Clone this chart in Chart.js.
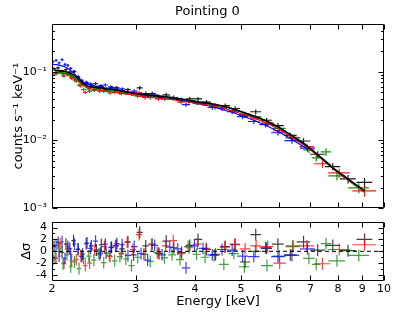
<!DOCTYPE html>
<html>
<head>
<meta charset="utf-8">
<script src="https://cdn.jsdelivr.net/npm/chart.js@4"></script>
<style>
  html, body { margin: 0; padding: 0; background: #fff; }
  #wrap { position: relative; width: 415px; height: 312px; }
  #spec { position: absolute; left: 0; top: 0; }
  #resid { position: absolute; left: 0; top: 210px; }
</style>
</head>
<body>
<div id="wrap">
  <canvas id="spec" width="415" height="220"></canvas>
  <canvas id="resid" width="415" height="102"></canvas>
</div>
<script>
// axis values
const energyRange = [2, 10];
const energyTicks = [2, 3, 4, 5, 6, 7, 8, 9, 10];
const rateRange = [0.001, 0.5];
const rateTicks = [0.001, 0.01, 0.1];
const rateTickLabels = ['10⁻³', '10⁻²', '10⁻¹'];
const residRange = [-5, 5];
const residTicks = [-4, -2, 0, 2, 4];

// black
const energyBlack = [2.02, 2.06, 2.10, 2.14, 2.18, 2.22, 2.27, 2.32, 2.37, 2.42,
  2.48, 2.54, 2.60, 2.67, 2.74, 2.81, 2.89, 2.97, 3.06, 3.15,
  3.25, 3.36, 3.48, 3.61, 3.75, 3.90, 4.06, 4.23, 4.42, 4.63,
  4.86, 5.10, 5.37, 5.66, 5.98, 6.35, 6.77, 7.25, 7.80, 8.40, 9.10];
const rateBlack = [.111, .114, .102, .107, .099, .100, .082, .067, .068, .064,
  .059, .061, .055, .058, .058, .053, .055, .048, .058, .048,
  .048, .043, .046, .042, .039, .040, .040, .036, .032, .032,
  .029, .023, .026, .0195, .0163, .0117, .0097, .0062, .0041, .0027, .0024];
const relErrBlack = [.05, .05, .05, .05, .05, .05, .06, .06, .06, .06,
  .06, .06, .06, .06, .06, .06, .06, .06, .07, .07,
  .07, .07, .07, .07, .07, .07, .07, .07, .07, .07,
  .08, .08, .08, .08, .09, .09, .10, .11, .12, .14, .16];
const modelBlack = [.105, .104, .103, .100, .096, .090, .080, .069, .062, .060,
  .059, .058, .056, .055, .054, .052, .050, .049, .047, .046,
  .045, .044, .043, .041, .040, .038, .036, .035, .033, .031,
  .028, .025, .022, .019, .0157, .0120, .0090, .0061, .0039, .0027, .0018];
const residBlack = [0.8, 1.5, -0.2, 1.2, 0.5, 1.8, 0.3, -0.5, 1.4, 0.9,
  0.2, 1.1, -0.3, 0.7, 1.3, 0.4, 1.6, -0.6, 3.2, 0.9,
  1.2, -0.4, 1.7, 0.6, -0.2, 1.0, 2.0, 0.3, -0.5, 0.8,
  1.1, -1.8, 2.8, 0.5, 1.2, -0.6, 1.6, 0.2, 1.0, 0.1, 2.0];

// red
const energyRed = [2.04, 2.08, 2.12, 2.16, 2.20, 2.25, 2.30, 2.35, 2.40, 2.46,
  2.52, 2.58, 2.65, 2.72, 2.80, 2.88, 2.96, 3.05, 3.14, 3.24,
  3.35, 3.47, 3.60, 3.74, 3.89, 4.05, 4.22, 4.41, 4.62, 4.85,
  5.10, 5.38, 5.69, 6.03, 6.42, 6.88, 7.42, 8.05, 9.10];
const rateRed = [.093, .099, .086, .090, .080, .073, .062, .050, .052, .054,
  .052, .054, .049, .052, .048, .050, .047, .049, .042, .044,
  .040, .042, .041, .036, .037, .035, .034, .030, .030, .027,
  .024, .021, .0178, .0136, .0110, .0080, .0045, .0033, .0018];
const relErrRed = [.05, .05, .05, .05, .05, .06, .06, .06, .06, .06,
  .06, .06, .06, .06, .06, .06, .06, .07, .07, .07,
  .07, .07, .07, .07, .07, .07, .07, .07, .07, .08,
  .08, .08, .08, .09, .10, .11, .13, .15, .18];
const modelRed = [.097, .096, .094, .091, .086, .077, .067, .060, .057, .055,
  .054, .052, .051, .050, .049, .047, .046, .044, .043, .042,
  .041, .040, .039, .037, .036, .034, .033, .031, .029, .026,
  .0235, .0205, .0175, .0142, .0108, .0079, .0052, .0032, .0017];
const residRed = [-1.2, 1.3, -2.0, 0.4, -1.6, -1.4, -0.8, -2.4, -2.0, 0.2,
  -0.6, 0.8, -0.9, 1.0, -0.4, 1.5, 0.3, 2.8, -0.5, 1.1,
  -0.3, 0.9, 1.8, -0.4, 0.6, 1.2, 0.5, -0.6, 0.7, 1.2,
  0.4, 0.9, 0.8, -2.0, 0.8, 0.9, -2.1, 0.3, 1.1];

// blue
const energyBlue = [2.01, 2.04, 2.07, 2.10, 2.13, 2.16, 2.19, 2.23, 2.27, 2.31,
  2.36, 2.41, 2.47, 2.53, 2.59, 2.66, 2.73, 2.81, 2.89, 2.98,
  3.08, 3.18, 3.29, 3.41, 3.54, 3.68, 3.83, 3.99, 4.16, 4.35,
  4.56, 4.79, 5.04, 5.32, 5.63, 5.98, 6.40, 6.90];
const rateBlue = [.140, .147, .135, .150, .128, .124, .112, .101, .085, .075,
  .070, .066, .067, .062, .064, .060, .058, .056, .050, .052,
  .047, .044, .046, .042, .042, .040, .033, .036, .034, .030,
  .029, .026, .022, .0187, .0168, .0128, .0098, .0076];
const relErrBlue = [.05, .05, .05, .05, .05, .05, .05, .05, .06, .06,
  .06, .06, .06, .06, .06, .06, .06, .06, .07, .07,
  .07, .07, .07, .07, .07, .07, .07, .07, .07, .07,
  .08, .08, .08, .08, .09, .09, .10, .11];
const modelBlue = [.128, .127, .125, .122, .118, .112, .104, .093, .082, .073,
  .067, .064, .062, .060, .058, .057, .055, .053, .051, .049,
  .047, .046, .044, .043, .041, .039, .037, .035, .033, .031,
  .028, .0255, .0225, .0195, .0165, .0135, .0102, .0074];
const residBlue = [-1.4, 1.0, -0.8, 1.6, -1.2, 0.8, -0.5, 1.2, 0.4, -0.9,
  1.3, 0.5, 1.7, -0.3, 1.2, 0.6, 0.9, 1.1, -0.7, 0.8,
  -0.4, -1.5, 1.0, -0.6, 0.7, 0.4, -2.8, 0.9, 0.5, -0.6,
  0.3, 0.2, -0.8, -0.9, 0.6, -0.9, -0.7, 0.4];

// green
const energyGreen = [2.03, 2.07, 2.11, 2.15, 2.19, 2.23, 2.28, 2.33, 2.39, 2.45,
  2.51, 2.57, 2.64, 2.71, 2.78, 2.86, 2.94, 3.03, 3.12, 3.22,
  3.33, 3.45, 3.58, 3.72, 3.87, 4.03, 4.20, 4.39, 4.60, 4.83,
  5.08, 5.36, 5.67, 6.02, 6.44, 6.95, 7.20, 7.55, 7.96, 8.85];
const rateGreen = [.094, .097, .089, .092, .084, .076, .064, .055, .056, .054,
  .055, .052, .053, .050, .049, .048, .047, .044, .045, .042,
  .043, .040, .041, .038, .037, .035, .034, .031, .030, .027,
  .023, .022, .0172, .0148, .0108, .0072, .0055, .0067, .0030, .0020];
const relErrGreen = [.05, .05, .05, .05, .05, .06, .06, .06, .06, .06,
  .06, .06, .06, .06, .06, .06, .06, .07, .07, .07,
  .07, .07, .07, .07, .07, .07, .07, .07, .07, .08,
  .08, .08, .08, .09, .10, .11, .12, .13, .15, .17];
const modelGreen = [.100, .099, .097, .094, .090, .083, .073, .065, .060, .058,
  .057, .056, .055, .053, .052, .050, .049, .047, .046, .045,
  .044, .043, .041, .040, .038, .037, .035, .033, .031, .028,
  .025, .022, .0188, .0152, .0112, .0077, .0064, .0049, .0035, .0020];
const residGreen = [-1.0, 0.4, -2.1, -0.6, -2.6, -1.8, -2.9, -1.2, -0.8, -1.5,
  -0.4, -1.9, -0.7, -1.6, -0.9, -1.3, -2.4, -1.0, -0.5, -1.7,
  -0.2, -1.1, -0.6, -1.4, 0.8, -0.5, -1.0, -0.7, -2.2, -0.4,
  -2.6, 0.0, -2.4, -0.8, 0.9, -1.2, -2.2, 1.3, -1.6, -0.7];

const series = [
  { color: '#000000', e: energyBlack, rate: rateBlack, err: relErrBlack, model: modelBlack, resid: residBlack, lineOrder: 0, dataOrder: 7, lw: 1.6 },
  { color: '#ff0000', e: energyRed, rate: rateRed, err: relErrRed, model: modelRed, resid: residRed, lineOrder: 2, dataOrder: 6, lw: 1.1 },
  { color: '#0000ff', e: energyBlue, rate: rateBlue, err: relErrBlue, model: modelBlue, resid: residBlue, lineOrder: 3, dataOrder: 4, lw: 1.1 },
  { color: '#008000', e: energyGreen, rate: rateGreen, err: relErrGreen, model: modelGreen, resid: residGreen, lineOrder: 1, dataOrder: 5, lw: 1.2 },
];

// half bin width from neighbouring bin centres
function halfWidths(e) {
  return e.map((v, i) => {
    if (i === 0) return (e[1] - e[0]) / 2;
    if (i === e.length - 1) return (e[i] - e[i - 1]) / 2;
    return (e[i + 1] - e[i - 1]) / 4;
  });
}

Chart.defaults.font.family = 'DejaVu Sans';
Chart.defaults.color = '#000';

// crosses: horizontal = bin width, vertical = error
const errorBars = {
  id: 'errorBars',
  afterDatasetDraw(chart, args) {
    const ds = chart.data.datasets[args.index];
    if (!ds.errorBars) return;
    const { ctx, chartArea: a } = chart;
    const x = chart.scales.x, y = chart.scales.y;
    ctx.save();
    ctx.beginPath();
    ctx.rect(a.left, a.top, a.right - a.left, a.bottom - a.top);
    ctx.clip();
    ctx.strokeStyle = ds.borderColor;
    ctx.globalAlpha = ds.barAlpha;
    ctx.lineWidth = 1.2;
    ctx.beginPath();
    for (const p of ds.data) {
      const px = x.getPixelForValue(p.x), py = y.getPixelForValue(p.y);
      ctx.moveTo(x.getPixelForValue(p.xl), py);
      ctx.lineTo(x.getPixelForValue(p.xh), py);
      ctx.moveTo(px, y.getPixelForValue(p.yl));
      ctx.lineTo(px, y.getPixelForValue(p.yh));
    }
    ctx.stroke();
    ctx.restore();
  }
};

// box and inward ticks, matplotlib style
const frame = {
  id: 'frame',
  afterDraw(chart, args, opts) {
    const { ctx, chartArea: a } = chart;
    const x = chart.scales.x, y = chart.scales.y;
    const L = Math.round(a.left) + 0.5, R = Math.round(a.right) - 0.5;
    const T = Math.round(a.top) + 0.5, B = Math.round(a.bottom) - 0.5;
    ctx.save();
    ctx.strokeStyle = '#000';
    ctx.lineWidth = 1;
    ctx.beginPath();
    ctx.rect(L, T, R - L, B - T);
    for (const v of opts.xMajor) {
      const p = Math.round(x.getPixelForValue(v)) + 0.5;
      ctx.moveTo(p, B); ctx.lineTo(p, B - 5);
      ctx.moveTo(p, T); ctx.lineTo(p, T + 5);
    }
    const yTick = (v, len) => {
      const p = Math.round(y.getPixelForValue(v)) + 0.5;
      ctx.moveTo(L, p); ctx.lineTo(L + len, p);
      ctx.moveTo(R, p); ctx.lineTo(R - len, p);
    };
    opts.yMajor.forEach(v => yTick(v, 5));
    opts.yMinor.forEach(v => yTick(v, 2.5));
    ctx.stroke();
    ctx.restore();
  }
};

const minorRate = [];
for (const dec of [0.001, 0.01, 0.1]) {
  for (let m = 2; m <= 9; m++) {
    const v = dec * m;
    if (v < rateRange[1]) minorRate.push(v);
  }
}

// ---- spectrum panel ----
const specSets = [];
const residSets = [];
for (const s of series) {
  const hw = halfWidths(s.e);
  specSets.push({
    data: s.e.map((e, i) => ({ x: e, y: s.model[i] })),
    showLine: true, pointRadius: 0, borderColor: s.color, borderWidth: s.lw,
    order: s.lineOrder
  });
  specSets.push({
    data: s.e.map((e, i) => ({
      x: e, y: s.rate[i], xl: e - hw[i], xh: e + hw[i],
      yl: s.rate[i] * (1 - s.err[i]), yh: s.rate[i] * (1 + s.err[i])
    })),
    pointRadius: 0, borderColor: s.color, errorBars: true, barAlpha: 0.9,
    order: s.dataOrder
  });
  residSets.push({
    data: s.e.map((e, i) => ({
      x: e, y: s.resid[i], xl: e - hw[i], xh: e + hw[i],
      yl: s.resid[i] - 1, yh: s.resid[i] + 1
    })),
    pointRadius: 0, borderColor: s.color, errorBars: true, barAlpha: 0.75,
    order: s.dataOrder
  });
}
residSets.push({
  data: [{ x: energyRange[0], y: 0 }, { x: energyRange[1], y: 0 }],
  showLine: true, pointRadius: 0, borderColor: '#000', borderWidth: 1,
  borderDash: [4, 3], order: 0
});

const hiddenGrid = { display: false, drawTicks: false };

new Chart(document.getElementById('spec'), {
  type: 'scatter',
  data: { datasets: specSets },
  options: {
    responsive: false, animation: false, events: [],
    layout: { padding: { left: 0, right: 0, top: 0, bottom: 10 } },
    plugins: {
      legend: { display: false }, tooltip: { enabled: false },
      title: {
        display: true, text: 'Pointing 0', color: '#000',
        font: { size: 13, weight: 'normal' }, padding: { top: 4, bottom: 4.4 }
      },
      frame: { xMajor: energyTicks, yMajor: rateTicks, yMinor: minorRate }
    },
    scales: {
      x: {
        type: 'logarithmic', min: energyRange[0], max: energyRange[1],
        ticks: { display: false }, grid: hiddenGrid, border: { display: false },
        afterFit: s => { s.height = 0; }
      },
      y: {
        type: 'logarithmic', min: rateRange[0], max: rateRange[1], position: 'left',
        afterBuildTicks: s => { s.ticks = rateTicks.map(v => ({ value: v })); },
        afterFit: s => { s.width = 52; },
        grid: hiddenGrid, border: { display: false },
        ticks: {
          autoSkip: false, padding: 5, font: { size: 11 }, color: '#000',
          callback: v => rateTickLabels[rateTicks.indexOf(v)]
        },
        title: {
          display: true, text: 'counts s⁻¹ keV⁻¹', color: '#000',
          font: { size: 13 }, padding: { top: 11, bottom: 0 }
        }
      },
      yr: {
        position: 'right', ticks: { display: false }, grid: hiddenGrid,
        border: { display: false }, afterFit: s => { s.width = 31; }
      }
    }
  },
  plugins: [errorBars, frame]
});

// ---- residual panel ----
new Chart(document.getElementById('resid'), {
  type: 'scatter',
  data: { datasets: residSets },
  options: {
    responsive: false, animation: false, events: [],
    layout: { padding: { left: 0, right: 0, top: 8, bottom: 0 } },
    plugins: {
      legend: { display: false }, tooltip: { enabled: false },
      frame: { xMajor: energyTicks, yMajor: residTicks, yMinor: [-3, -1, 1, 3] }
    },
    scales: {
      x: {
        type: 'logarithmic', min: energyRange[0], max: energyRange[1],
        afterBuildTicks: s => { s.ticks = energyTicks.map(v => ({ value: v })); },
        afterFit: s => { s.height = 31; },
        grid: hiddenGrid, border: { display: false },
        ticks: {
          autoSkip: false, maxRotation: 0, padding: 2, font: { size: 11 }, color: '#000',
          callback: v => String(v)
        },
        title: {
          display: true, text: 'Energy [keV]', color: '#000',
          font: { size: 13 }, padding: { top: 0, bottom: 3 }
        }
      },
      y: {
        type: 'linear', min: residRange[0], max: residRange[1], position: 'left',
        afterBuildTicks: s => { s.ticks = residTicks.map(v => ({ value: v })); },
        afterFit: s => { s.width = 52; },
        grid: hiddenGrid, border: { display: false },
        ticks: { autoSkip: false, padding: 5, font: { size: 11 }, color: '#000',
          callback: v => String(v) },
        title: {
          display: true, text: 'Δσ', color: '#000',
          font: { size: 13 }, padding: { top: 19, bottom: 0 }
        }
      },
      yr: {
        position: 'right', ticks: { display: false }, grid: hiddenGrid,
        border: { display: false }, afterFit: s => { s.width = 31; }
      }
    }
  },
  plugins: [errorBars, frame]
});
</script>
</body>
</html>
